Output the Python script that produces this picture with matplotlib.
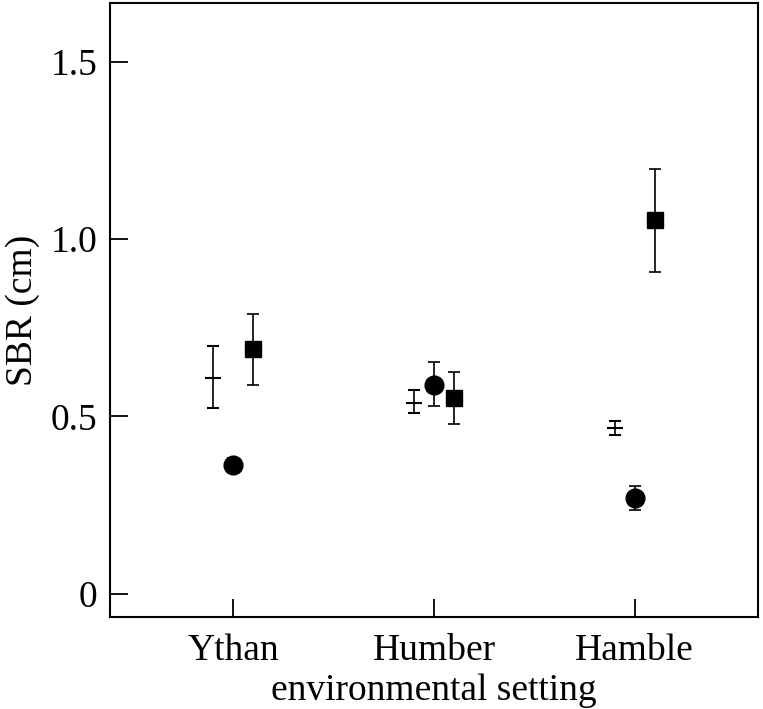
import matplotlib
matplotlib.use("Agg")
import matplotlib.pyplot as plt
import numpy as np

sites = ["Ythan", "Humber", "Hamble"]
# series A: no marker (bar only)
a_val = [0.608, 0.538, 0.468]
a_lo = [0.524, 0.510, 0.448]
a_hi = [0.699, 0.575, 0.487]
# series B: circles
b_val = [0.363, 0.590, 0.270]
b_lo = [0.343, 0.530, 0.237]
b_hi = [0.383, 0.654, 0.304]
# series C: squares
c_val = [0.690, 0.552, 1.054]
c_lo = [0.589, 0.479, 0.907]
c_hi = [0.790, 0.625, 1.197]

yticks = [0, 0.5, 1.0, 1.5]
ytick_labels = ["0", "0.5", "1.0", "1.5"]

plt.rcParams['font.family'] = ['Liberation Serif', 'DejaVu Serif']

fig = plt.figure(figsize=(7.63, 7.09), dpi=100)
ax = fig.add_axes([110/763, 1-617/709, (758-110)/763, (617-3)/709])

x = np.arange(len(sites))
def err(v, lo, hi):
    v = np.array(v); return [v - np.array(lo), np.array(hi) - v]

kw = dict(color='black', ecolor='black', elinewidth=1.2, capsize=4, capthick=1.2, linestyle='none')
ax.errorbar(x - 0.1, a_val, yerr=err(a_val, a_lo, a_hi), marker='_', markersize=12, markeredgewidth=1.5, **kw)
ax.errorbar(x, b_val, yerr=err(b_val, b_lo, b_hi), marker='o', markersize=13.5, **kw)
ax.errorbar(x + 0.1, c_val, yerr=err(c_val, c_lo, c_hi), marker='s', markersize=11.5, **kw)

ax.set_xlim(-0.615, 2.615)
ax.set_ylim(-0.065, 1.665)
ax.set_xticks(x)
ax.set_xticklabels(sites)
ax.set_yticks(yticks)
ax.set_yticklabels(ytick_labels)
ax.tick_params(direction='in', length=13, width=1.3, labelsize=27)
ax.tick_params(axis='x', pad=12)
ax.tick_params(axis='y', pad=9)
for s in ax.spines.values():
    s.set_linewidth(1.5)
ax.set_xlabel("environmental setting", fontsize=27, labelpad=4)
ax.set_ylabel("SBR (cm)", fontsize=27, labelpad=8)

fig.savefig("out.png", dpi=100)
